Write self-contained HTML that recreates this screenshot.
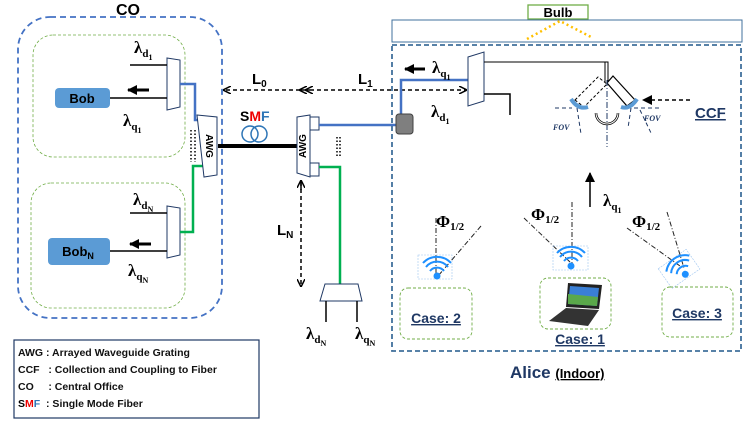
<!DOCTYPE html>
<html><head><style>
body{margin:0;background:#fff}
svg{display:block;font-family:"Liberation Sans",sans-serif}
.s{font-family:"Liberation Serif",serif;font-weight:bold}
</style></head><body>
<svg width="747" height="424" viewBox="0 0 747 424" xmlns="http://www.w3.org/2000/svg">
<defs>
<marker id="ah" markerWidth="8" markerHeight="8" refX="7" refY="4" orient="auto" markerUnits="userSpaceOnUse"><path d="M0,0 L8,4 L0,8" fill="none" stroke="#000" stroke-width="1.5"/></marker>
<marker id="af" markerWidth="10" markerHeight="10" refX="9" refY="5" orient="auto" markerUnits="userSpaceOnUse"><path d="M0,0 L10,5 L0,10z" fill="#000"/></marker>
</defs>
<!-- CO -->
<text x="128" y="15" font-size="16" font-weight="bold" text-anchor="middle">CO</text>
<rect x="18" y="17" width="204" height="301" rx="32" fill="none" stroke="#4472c4" stroke-width="1.8" stroke-dasharray="6,4"/>
<rect x="33" y="35" width="152" height="122" rx="20" fill="none" stroke="#70ad47" stroke-width="0.8" stroke-dasharray="3,2"/>
<rect x="31" y="183" width="154" height="125" rx="20" fill="none" stroke="#70ad47" stroke-width="0.8" stroke-dasharray="3,2"/>
<rect x="55" y="88" width="55" height="20" rx="4" fill="#5b9bd5"/>
<text x="82" y="103" font-size="13" font-weight="bold" text-anchor="middle">Bob</text>
<rect x="48" y="238" width="62" height="27" rx="4" fill="#5b9bd5"/>
<text x="78" y="256" font-size="13" font-weight="bold" text-anchor="middle">Bob<tspan font-size="9" dy="3">N</tspan></text>
<polygon points="167,58 180,60 180,107 167,110" fill="#fff" stroke="#1f3864" stroke-width="1"/>
<polygon points="167,206 180,208 180,255 167,258" fill="#fff" stroke="#1f3864" stroke-width="1"/>
<g stroke="#000" stroke-width="1.5"><line x1="130" y1="65" x2="167" y2="65"/><line x1="110" y1="98" x2="167" y2="98"/><line x1="130" y1="213" x2="167" y2="213"/><line x1="110" y1="251" x2="167" y2="251"/></g>
<line x1="149" y1="90" x2="128" y2="90" stroke="#000" stroke-width="3" marker-end="url(#af)"/>
<line x1="151" y1="244" x2="130" y2="244" stroke="#000" stroke-width="3" marker-end="url(#af)"/>
<text x="134" y="53" font-size="17" class="s">λ<tspan font-size="11" dy="4">d</tspan><tspan font-size="8" dy="3">1</tspan></text>
<text x="123" y="126" font-size="17" class="s">λ<tspan font-size="11" dy="4">q</tspan><tspan font-size="8" dy="3">1</tspan></text>
<text x="133" y="205" font-size="17" class="s">λ<tspan font-size="11" dy="4">d</tspan><tspan font-size="8" dy="3">N</tspan></text>
<text x="128" y="276" font-size="17" class="s">λ<tspan font-size="11" dy="4">q</tspan><tspan font-size="8" dy="3">N</tspan></text>
<polyline points="180,84 195,84 195,120 203,120" fill="none" stroke="#4472c4" stroke-width="2.5"/>
<polyline points="203,166 193,166 193,232 180,232" fill="none" stroke="#00b050" stroke-width="2.5"/>
<polygon points="197,115 217,117 217,175 204,177" fill="#fff" stroke="#1f3864" stroke-width="1"/>
<text transform="translate(206,146) rotate(90)" font-size="10" font-weight="bold" text-anchor="middle">AWG</text>
<line x1="195" y1="130" x2="195" y2="162" stroke="#000" stroke-width="1.5" stroke-dasharray="1.5,2"/>
<line x1="191" y1="130" x2="191" y2="162" stroke="#000" stroke-width="1.5" stroke-dasharray="1.5,2"/>
<!-- SMF -->
<line x1="218" y1="146" x2="297" y2="146" stroke="#000" stroke-width="4"/>
<text x="240" y="121" font-size="14" font-weight="bold"><tspan fill="#000">S</tspan><tspan fill="#e00">M</tspan><tspan fill="#2e75b6">F</tspan></text>
<circle cx="250" cy="134" r="8" fill="none" stroke="#2e75b6" stroke-width="1.5"/>
<circle cx="259" cy="134" r="8" fill="none" stroke="#2e75b6" stroke-width="1.5"/>
<!-- L0 L1 -->
<line x1="300" y1="90" x2="224" y2="90" stroke="#000" stroke-width="1.5" stroke-dasharray="4,3" marker-end="url(#ah)"/>
<line x1="305" y1="90" x2="300" y2="90" stroke="#000" stroke-width="1.5" marker-end="url(#ah)"/>
<line x1="310" y1="90" x2="466" y2="90" stroke="#000" stroke-width="1.5" stroke-dasharray="4,3" marker-end="url(#ah)"/>
<line x1="310" y1="90" x2="306" y2="90" stroke="#000" stroke-width="1.5" marker-end="url(#ah)"/>
<text x="252" y="84" font-size="15" font-weight="bold">L<tspan font-size="10" dy="3">0</tspan></text>
<text x="358" y="84" font-size="15" font-weight="bold">L<tspan font-size="10" dy="3">1</tspan></text>
<!-- AWG2 -->
<polygon points="297,117 310,115 310,177 297,173" fill="#fff" stroke="#1f3864" stroke-width="1"/>
<text transform="translate(306,146) rotate(-90)" font-size="10" font-weight="bold" text-anchor="middle">AWG</text>
<rect x="310" y="117" width="9" height="13" fill="#fff" stroke="#1f3864"/>
<rect x="310" y="163" width="9" height="13" fill="#fff" stroke="#1f3864"/>
<line x1="340" y1="137" x2="340" y2="158" stroke="#000" stroke-width="1.5" stroke-dasharray="1.5,2"/>
<line x1="337" y1="137" x2="337" y2="158" stroke="#000" stroke-width="1.5" stroke-dasharray="1.5,2"/>
<line x1="319" y1="125" x2="396" y2="125" stroke="#4472c4" stroke-width="2.5"/>
<polyline points="401,115 401,80 468,80" fill="none" stroke="#4472c4" stroke-width="2.5"/>
<rect x="396" y="114" width="17" height="20" rx="3" fill="#7f7f7f" stroke="#404040"/>
<polyline points="319,167 340,167 340,284" fill="none" stroke="#00b050" stroke-width="2.5"/>
<line x1="301" y1="182" x2="301" y2="286" stroke="#000" stroke-width="1.5" stroke-dasharray="4,3" marker-end="url(#ah)"/>
<line x1="301" y1="190" x2="301" y2="181" stroke="#000" stroke-width="1.5" marker-end="url(#ah)"/>
<text x="277" y="235" font-size="15" font-weight="bold">L<tspan font-size="10" dy="3">N</tspan></text>
<polygon points="325,284 358,284 362,301 320,301" fill="#fff" stroke="#1f3864"/>
<line x1="326" y1="301" x2="326" y2="322" stroke="#000" stroke-width="1.5"/>
<line x1="357" y1="301" x2="357" y2="322" stroke="#000" stroke-width="1.5"/>
<text x="306" y="339" font-size="17" class="s">λ<tspan font-size="11" dy="4">d</tspan><tspan font-size="8" dy="3">N</tspan></text>
<text x="355" y="339" font-size="17" class="s">λ<tspan font-size="11" dy="4">q</tspan><tspan font-size="8" dy="3">N</tspan></text>
<!-- legend -->
<rect x="14" y="340" width="245" height="78" fill="#fff" stroke="#1f3864" stroke-width="1.2"/>
<g font-size="10.5" font-weight="bold" fill="#111">
<text x="18" y="356">AWG : Arrayed Waveguide Grating</text>
<text x="18" y="373">CCF&#160;&#160; : Collection and Coupling to Fiber</text>
<text x="18" y="390">CO&#160;&#160;&#160;&#160; : Central Office</text>
<text x="18" y="407"><tspan fill="#000">S</tspan><tspan fill="#e00">M</tspan><tspan fill="#2e75b6">F</tspan>&#160; : Single Mode Fiber</text>
</g>
<!-- right side -->
<rect x="528" y="5" width="60" height="14" fill="#fff" stroke="#70ad47" stroke-width="1.3"/>
<text x="558" y="17" font-size="13" font-weight="bold" text-anchor="middle">Bulb</text>
<rect x="392" y="20" width="350" height="22" fill="none" stroke="#41719c" stroke-width="1"/>
<polyline points="527,39 560,21 593,38" fill="none" stroke="#ffc000" stroke-width="2.5" stroke-dasharray="2,3"/>
<rect x="392" y="45" width="349" height="306" fill="none" stroke="#41719c" stroke-width="1.8" stroke-dasharray="5,3"/>
<polygon points="468,57 484,52 484,101 468,106" fill="#fff" stroke="#1f3864"/>
<line x1="425" y1="69" x2="405" y2="69" stroke="#000" stroke-width="3" marker-end="url(#af)"/>
<text x="432" y="73" font-size="17" class="s">λ<tspan font-size="11" dy="4">q</tspan><tspan font-size="8" dy="3">1</tspan></text>
<text x="431" y="117" font-size="17" class="s">λ<tspan font-size="11" dy="4">d</tspan><tspan font-size="8" dy="3">1</tspan></text>
<polyline points="484,62 608,62 608,82" fill="none" stroke="#000" stroke-width="1"/>
<line x1="605" y1="62" x2="605" y2="82" stroke="#000" stroke-width="1"/>
<polyline points="484,94 510,94 510,115" fill="none" stroke="#000" stroke-width="1.5"/>
<polygon points="575,100 598,77 607,84 584,107" fill="#fff" stroke="#000" stroke-width="1" stroke-dasharray="3,2"/>
<polygon points="613,76 635,100 627,106 607,83" fill="#fff" stroke="#000" stroke-width="1.2"/>
<path d="M571,99 Q578,110 588,107" fill="none" stroke="#5b9bd5" stroke-width="4"/>
<path d="M637,99 Q630,110 621,107" fill="none" stroke="#5b9bd5" stroke-width="4"/>
<line x1="607" y1="80" x2="607" y2="147" stroke="#1f3864" stroke-width="1" stroke-dasharray="6,2,1,2"/>
<path d="M596,113 A11,11 0 0 0 618,113" fill="none" stroke="#000" stroke-width="2.5"/>
<path d="M596,113 A11,11 0 0 0 618,113" fill="none" stroke="#fff" stroke-width="1"/>
<g stroke="#1f3864" stroke-width="1" stroke-dasharray="4,3"><line x1="555" y1="108" x2="572" y2="108"/><line x1="634" y1="108" x2="660" y2="108"/><line x1="577" y1="108" x2="581" y2="134"/><line x1="631" y1="108" x2="628" y2="128"/><line x1="640" y1="110" x2="652" y2="135"/></g>
<text x="553" y="130" font-size="8" font-style="italic" font-weight="bold" fill="#1f3864" font-family="Liberation Serif,serif">FOV</text>
<text x="644" y="121" font-size="8" font-style="italic" font-weight="bold" fill="#1f3864" font-family="Liberation Serif,serif">FOV</text>
<line x1="690" y1="100" x2="643" y2="100" stroke="#000" stroke-width="1.5" stroke-dasharray="4,3" marker-end="url(#af)"/>
<text x="695" y="118" font-size="15" font-weight="bold" fill="#1f3864" text-decoration="underline">CCF</text>
<line x1="590" y1="207" x2="590" y2="173" stroke="#000" stroke-width="1.5" marker-end="url(#af)"/>
<text x="603" y="206" font-size="17" class="s">λ<tspan font-size="11" dy="4">q</tspan><tspan font-size="8" dy="3">1</tspan></text>
<!-- phi lines -->
<g stroke="#222" stroke-width="1" stroke-dasharray="5,2,1,2" fill="none">
<line x1="436" y1="218" x2="436" y2="274"/><line x1="481" y1="226" x2="438" y2="276"/>
<line x1="572" y1="202" x2="572" y2="264"/><line x1="524" y1="218" x2="570" y2="262"/>
<line x1="667" y1="212" x2="684" y2="268"/><line x1="627" y1="228" x2="680" y2="266"/>
</g>
<text x="436" y="227" font-size="17" class="s">Φ<tspan font-size="11" dy="3">1/2</tspan></text>
<text x="531" y="220" font-size="17" class="s">Φ<tspan font-size="11" dy="3">1/2</tspan></text>
<text x="632" y="227" font-size="17" class="s">Φ<tspan font-size="11" dy="3">1/2</tspan></text>
<!-- wifi icons -->
<g fill="none" stroke="#1e90ff" stroke-width="2">
<rect x="418" y="255" width="34" height="24" stroke="#9ec5f0" stroke-width="0.6" stroke-dasharray="2,1"/>
<circle cx="437" cy="276" r="2.5" fill="#1e90ff"/><path d="M430,271 A9,9 0 0 1 444,271"/><path d="M426,267 A14,14 0 0 1 448,267"/><path d="M423,263 A19,19 0 0 1 451,263"/>
<rect x="553" y="246" width="35" height="24" stroke="#9ec5f0" stroke-width="0.6" stroke-dasharray="2,1"/>
<circle cx="571" cy="266" r="2.5" fill="#1e90ff"/><path d="M564,261 A9,9 0 0 1 578,261"/><path d="M560,257 A14,14 0 0 1 582,257"/><path d="M557,253 A19,19 0 0 1 585,253"/>
<g transform="rotate(-35 683 271)"><rect x="664" y="255" width="34" height="24" stroke="#9ec5f0" stroke-width="0.6" stroke-dasharray="2,1"/>
<circle cx="683" cy="275" r="2.5" fill="#1e90ff"/><path d="M676,270 A9,9 0 0 1 690,270"/><path d="M672,266 A14,14 0 0 1 694,266"/><path d="M669,262 A19,19 0 0 1 697,262"/></g>
</g>
<!-- case boxes -->
<rect x="400" y="288" width="72" height="51" rx="8" fill="none" stroke="#70ad47" stroke-width="0.9" stroke-dasharray="3,2"/>
<text x="436" y="323" font-size="14" font-weight="bold" fill="#1f3864" text-anchor="middle" text-decoration="underline">Case: 2</text>
<rect x="540" y="278" width="71" height="51" rx="8" fill="none" stroke="#70ad47" stroke-width="0.9" stroke-dasharray="3,2"/>
<polygon points="568,283 602,285 599,309 566,307" fill="#222"/>
<polygon points="570,286 599,288 597,306 568,304" fill="#3a7fd5"/>
<polygon points="568,294 598,297 597,306 568,304" fill="#5aa84a"/>
<polygon points="566,308 599,310 588,326 549,321" fill="#333"/>
<text x="580" y="344" font-size="14" font-weight="bold" fill="#1f3864" text-anchor="middle" text-decoration="underline">Case: 1</text>
<rect x="662" y="287" width="71" height="50" rx="8" fill="none" stroke="#70ad47" stroke-width="0.9" stroke-dasharray="3,2"/>
<text x="697" y="318" font-size="14" font-weight="bold" fill="#1f3864" text-anchor="middle" text-decoration="underline">Case: 3</text>
<text x="510" y="378" font-size="17" font-weight="bold" fill="#1f3864">Alice <tspan font-size="13" fill="#000" text-decoration="underline">(Indoor)</tspan></text>
</svg>
</body></html>
